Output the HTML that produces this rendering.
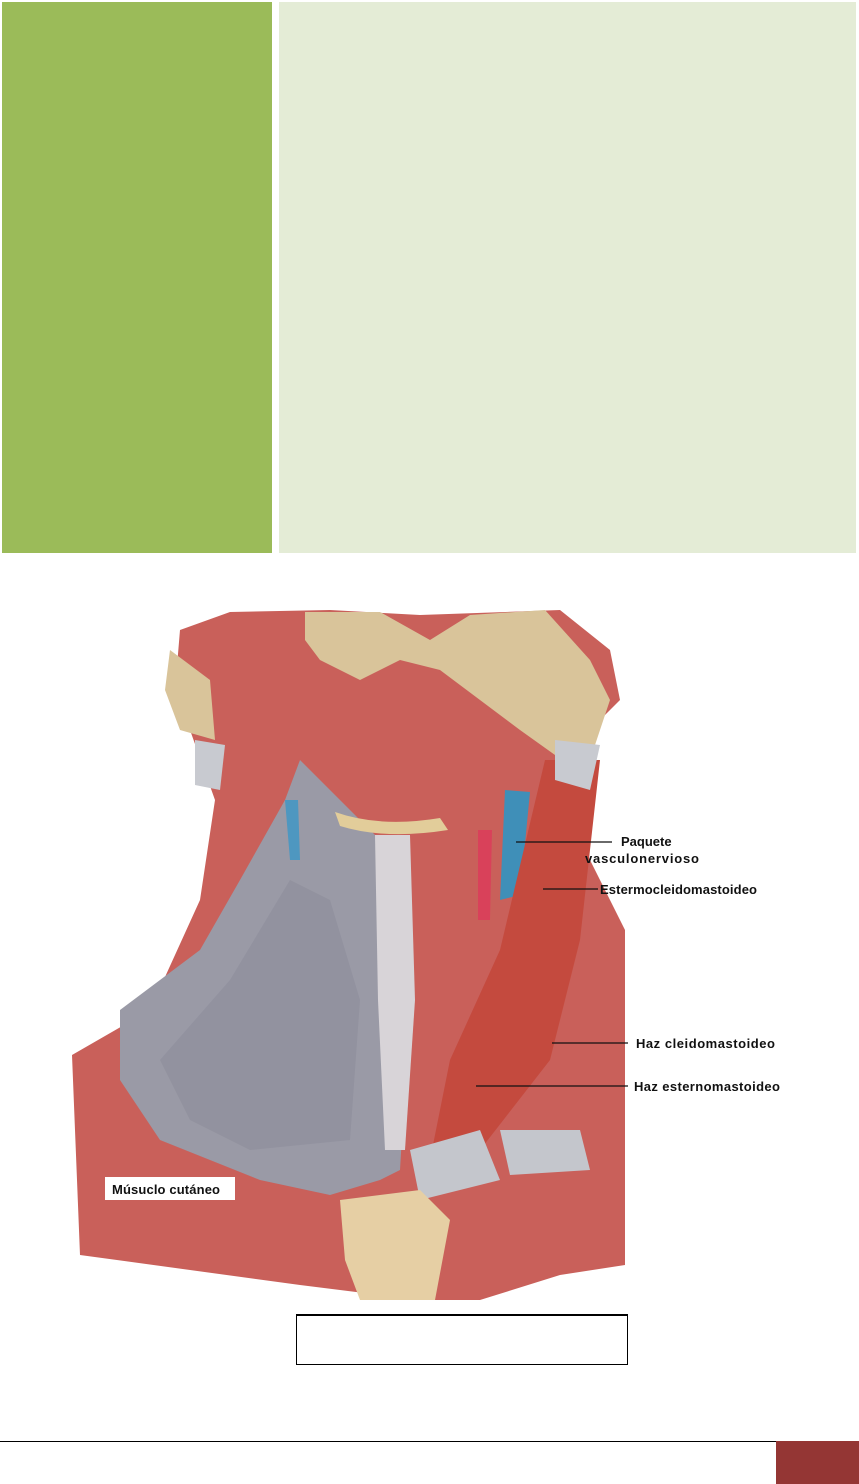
<!DOCTYPE html>
<html><head><meta charset="utf-8"><style>
html,body{margin:0;padding:0;background:#fff;width:859px;height:1484px;overflow:hidden;position:relative;font-family:"Liberation Sans",sans-serif}
.a{position:absolute}
</style></head><body>
<div class="a" style="left:2px;top:2px;width:270px;height:551px;background:#9bbb59"></div>
<div class="a" style="left:279px;top:2px;width:577px;height:551px;background:#e4ecd6"></div>

<svg class="a" style="left:0;top:0" width="859" height="1484" viewBox="0 0 859 1484">
<path d="M180 630 L230 612 L330 610 L420 615 L560 610 L610 650 L620 700 L575 745 L560 800 L600 880 L625 930 L625 1265 L560 1275 L480 1300 L420 1300 L340 1290 L300 1285 L80 1255 L72 1055 L150 1010 L200 900 L215 800 L190 730 L175 690 Z" fill="#c9605a"/>
<path d="M305 612 L380 612 L430 640 L470 615 L545 610 L590 660 L610 700 L595 745 L555 755 L520 730 L480 700 L440 670 L400 660 L360 680 L320 660 L305 640 Z" fill="#d9c49a"/>
<path d="M170 650 L210 680 L215 740 L180 730 L165 690 Z" fill="#d9c49a"/>
<path d="M120 1010 L200 950 L240 880 L285 800 L300 760 L350 810 L380 840 L410 1000 L400 1170 L380 1180 L330 1195 L260 1180 L160 1140 L120 1080 Z" fill="#9a9aa6"/>
<path d="M160 1060 L230 980 L290 880 L330 900 L360 1000 L350 1140 L250 1150 L190 1120 Z" fill="#8e8e9c" opacity=".7"/>
<path d="M375 835 L410 835 L415 1000 L405 1150 L385 1150 L378 1000 Z" fill="#d8d4d8"/>
<path d="M335 812 Q380 828 440 818 L448 830 Q385 840 340 826 Z" fill="#e2cd9a"/>
<path d="M505 790 L530 792 L520 895 L500 900 Z" fill="#3f8fb8"/>
<path d="M478 830 L492 830 L490 920 L478 920 Z" fill="#d9415a"/>
<path d="M285 800 L298 800 L300 860 L290 860 Z" fill="#4e97c0"/>
<path d="M545 760 L600 760 L580 940 L550 1060 L480 1150 L430 1160 L450 1060 L500 950 Z" fill="#c44a3e"/>
<path d="M410 1150 L480 1130 L500 1180 L420 1200 Z" fill="#c4c6cc"/>
<path d="M500 1130 L580 1130 L590 1170 L510 1175 Z" fill="#c4c6cc"/>
<path d="M555 740 L600 745 L590 790 L555 780 Z" fill="#c8cad0"/>
<path d="M195 740 L225 745 L220 790 L195 785 Z" fill="#c8cad0"/>
<path d="M340 1200 L420 1190 L450 1220 L435 1300 L360 1300 L345 1260 Z" fill="#e6cfa4"/>
<g stroke="#111" stroke-width="1.2">
<line x1="516" y1="842" x2="612" y2="842"/>
<line x1="543" y1="889" x2="598" y2="889"/>
<line x1="552" y1="1043" x2="628" y2="1043"/>
<line x1="476" y1="1086" x2="628" y2="1086"/>
</g>
<g font-family="Liberation Sans, sans-serif" font-weight="bold" font-size="13" fill="#111">
<text x="621" y="846">Paquete</text>
<text x="585" y="863" textLength="114">vasculonervioso</text>
<text x="600" y="894" textLength="157">Estermocleidomastoideo</text>
<text x="636" y="1048" textLength="139">Haz cleidomastoideo</text>
<text x="634" y="1091" textLength="146">Haz esternomastoideo</text>
</g>
<rect x="105" y="1177" width="130" height="23" fill="#fff"/>
<text x="112" y="1194" font-family="Liberation Sans, sans-serif" font-weight="bold" font-size="13" fill="#111" textLength="108">Músuclo cutáneo</text>
</svg>

<div class="a" style="left:296px;top:1314px;width:330px;height:48px;border:1px solid #000;border-top:2px solid #000"></div>
<div class="a" style="left:0;top:1441px;width:776px;height:1px;background:#000"></div>
<div class="a" style="left:776px;top:1441px;width:83px;height:43px;background:#943634"></div>
</body></html>
